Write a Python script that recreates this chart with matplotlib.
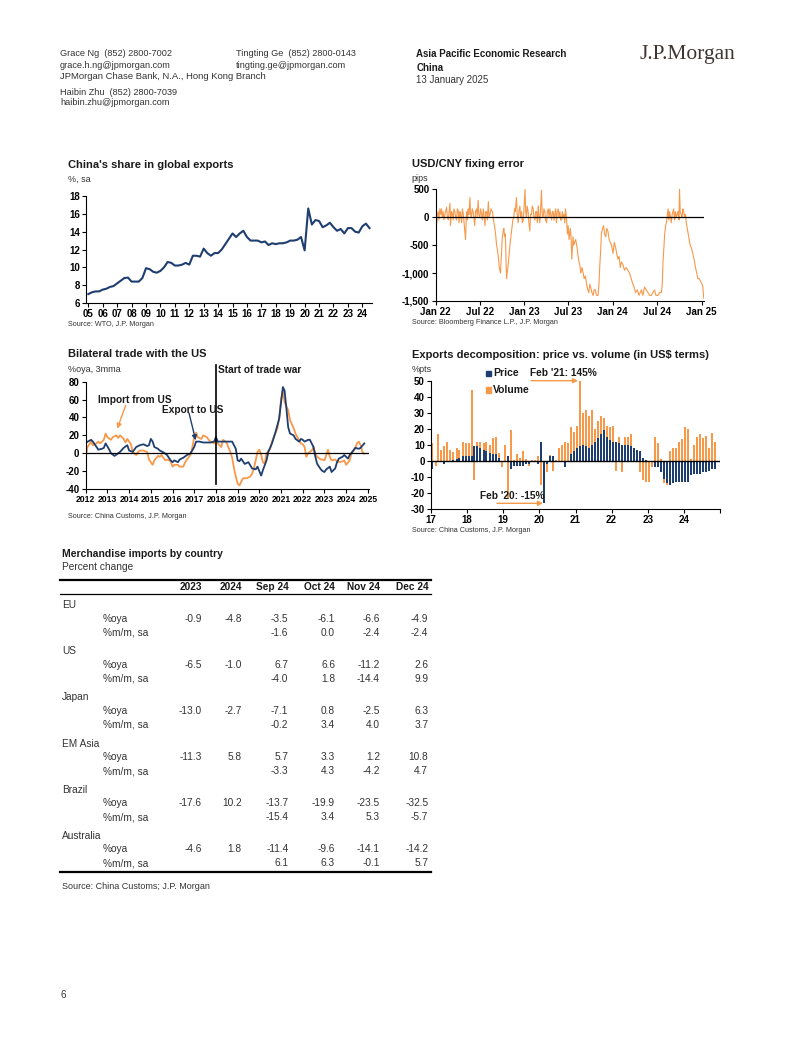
import matplotlib
matplotlib.use('Agg')
import matplotlib.pyplot as plt
from matplotlib.lines import Line2D
from matplotlib.patches import Rectangle
import numpy as np
import pandas as pd

plt.rcParams['font.family'] = ['Liberation Sans', 'DejaVu Sans']
NARROW = ['Liberation Sans Narrow', 'Liberation Sans', 'DejaVu Sans']

# ---------------- data ----------------
# Chart 1: China's share in global exports (%, sa), quarterly from 2005Q1
share_start = '2005Q1'
share = [7.0, 7.2, 7.3, 7.3, 7.5, 7.6, 7.8, 7.9, 8.2, 8.5, 8.8, 8.85,
         8.4, 8.4, 8.4, 8.8, 9.9, 9.8, 9.5, 9.4, 9.6, 10.0, 10.6, 10.5,
         10.2, 10.2, 10.3, 10.5, 10.3, 11.3, 11.3, 11.2, 12.1, 11.6, 11.3, 11.6,
         11.6, 12.0, 12.6, 13.2, 13.8, 13.4, 13.8, 14.1, 13.4, 13.0, 13.0, 13.0,
         12.8, 12.9, 12.5, 12.7, 12.6, 12.7, 12.7, 12.8, 13.0, 13.0, 13.1, 13.4,
         11.9, 16.6, 14.8, 15.3, 15.2, 14.5, 14.7, 15.0, 14.5, 14.1, 14.3, 13.8,
         14.4, 14.4, 14.0, 13.9, 14.6, 14.9, 14.4]
share_ticks = list(range(2005, 2025))

# Chart 2: USD/CNY fixing error (pips)
fx_dates = [
    "2022-01-03", "2022-01-05", "2022-01-07", "2022-01-11", "2022-01-14", "2022-01-18", "2022-01-21", "2022-01-25",
    "2022-01-28", "2022-02-01", "2022-02-04", "2022-02-08", "2022-02-11", "2022-02-15", "2022-02-18", "2022-02-22",
    "2022-02-25", "2022-03-01", "2022-03-03", "2022-03-07", "2022-03-10", "2022-03-14", "2022-03-17", "2022-03-21",
    "2022-03-24", "2022-03-28", "2022-03-31", "2022-04-04", "2022-04-07", "2022-04-11", "2022-04-14", "2022-04-18",
    "2022-04-21", "2022-04-25", "2022-04-28", "2022-05-04", "2022-05-07", "2022-05-10", "2022-05-12", "2022-05-15",
    "2022-05-18", "2022-05-22", "2022-05-25", "2022-05-28", "2022-06-01", "2022-06-04", "2022-06-08", "2022-06-11",
    "2022-06-14", "2022-06-18", "2022-06-21", "2022-06-25", "2022-06-28", "2022-07-02", "2022-07-05", "2022-07-09",
    "2022-07-12", "2022-07-16", "2022-07-19", "2022-07-23", "2022-07-26", "2022-07-30", "2022-08-02", "2022-08-06",
    "2022-08-09", "2022-08-13", "2022-08-17", "2022-08-23", "2022-08-27", "2022-09-02", "2022-09-06", "2022-09-09",
    "2022-09-13", "2022-09-16", "2022-09-20", "2022-09-25", "2022-09-28", "2022-10-02", "2022-10-06", "2022-10-09",
    "2022-10-12", "2022-10-15", "2022-10-20", "2022-10-24", "2022-10-28", "2022-11-03", "2022-11-07", "2022-11-11",
    "2022-11-15", "2022-11-19", "2022-11-22", "2022-11-25", "2022-11-30", "2022-12-03", "2022-12-07", "2022-12-10",
    "2022-12-14", "2022-12-17", "2022-12-21", "2022-12-24", "2022-12-28", "2022-12-31", "2023-01-04", "2023-01-07",
    "2023-01-10", "2023-01-13", "2023-01-17", "2023-01-20", "2023-01-24", "2023-01-27", "2023-01-31", "2023-02-03",
    "2023-02-07", "2023-02-10", "2023-02-14", "2023-02-17", "2023-02-21", "2023-02-24", "2023-02-28", "2023-03-02",
    "2023-03-06", "2023-03-09", "2023-03-13", "2023-03-16", "2023-03-20", "2023-03-23", "2023-03-27", "2023-03-30",
    "2023-04-03", "2023-04-06", "2023-04-10", "2023-04-13", "2023-04-17", "2023-04-20", "2023-04-24", "2023-04-27",
    "2023-04-30", "2023-05-04", "2023-05-07", "2023-05-10", "2023-05-14", "2023-05-17", "2023-05-21", "2023-05-24",
    "2023-05-28", "2023-05-31", "2023-06-04", "2023-06-07", "2023-06-10", "2023-06-14", "2023-06-17", "2023-06-20",
    "2023-06-24", "2023-06-28", "2023-07-01", "2023-07-05", "2023-07-10", "2023-07-13", "2023-07-16", "2023-07-21",
    "2023-07-24", "2023-07-28", "2023-08-01", "2023-08-07", "2023-08-11", "2023-08-15", "2023-08-18", "2023-08-22",
    "2023-08-27", "2023-09-01", "2023-09-05", "2023-09-10", "2023-09-15", "2023-09-20", "2023-09-24", "2023-09-28",
    "2023-10-02", "2023-10-07", "2023-10-12", "2023-10-16", "2023-10-21", "2023-10-26", "2023-11-01", "2023-11-05",
    "2023-11-08", "2023-11-12", "2023-11-15", "2023-11-20", "2023-11-24", "2023-11-28", "2023-12-03", "2023-12-07",
    "2023-12-12", "2023-12-17", "2023-12-22", "2023-12-27", "2024-01-02", "2024-01-07", "2024-01-13", "2024-01-17",
    "2024-01-22", "2024-01-27", "2024-02-01", "2024-02-06", "2024-02-12", "2024-02-18", "2024-02-25", "2024-03-03",
    "2024-03-10", "2024-03-17", "2024-03-24", "2024-03-29", "2024-04-04", "2024-04-11", "2024-04-18", "2024-04-23",
    "2024-04-28", "2024-05-04", "2024-05-11", "2024-05-18", "2024-05-25", "2024-06-01", "2024-06-08", "2024-06-14",
    "2024-06-21", "2024-06-27", "2024-07-05", "2024-07-12", "2024-07-19", "2024-07-23", "2024-07-26", "2024-07-30",
    "2024-08-02", "2024-08-06", "2024-08-09", "2024-08-13", "2024-08-16", "2024-08-19", "2024-08-22", "2024-08-26",
    "2024-08-29", "2024-09-02", "2024-09-05", "2024-09-08", "2024-09-12", "2024-09-15", "2024-09-19", "2024-09-23",
    "2024-09-26", "2024-09-30", "2024-10-02", "2024-10-05", "2024-10-09", "2024-10-12", "2024-10-16", "2024-10-19",
    "2024-10-23", "2024-10-26", "2024-10-30", "2024-11-03", "2024-11-07", "2024-11-11", "2024-11-15", "2024-11-20",
    "2024-11-26", "2024-12-01", "2024-12-07", "2024-12-12", "2024-12-17", "2024-12-22", "2024-12-28", "2025-01-03",
    "2025-01-06", "2025-01-10"]
fx_err = [
    200, -100, 50, 100, -50, 150, 50, 150,
    0, 100, -50, 50, 100, 180, 0, -50,
    100, 250, -150, 100, 80, -50, 150, 100,
    0, -50, 150, 120, -100, 100, 50, -100,
    150, 50, -100, -400, 0, 100, -50, 150,
    50, 350, 50, 0, 150, 100, -50, -150,
    100, 150, 0, 300, 50, 0, 150, 50,
    -50, 150, 50, -150, 100, 100, -50, 280,
    0, 50, 150, 100, -50, -200, -350, -500,
    -600, -700, -900, -1000, -750, -400, -250, -200,
    -350, -300, -1100, -950, -800, -500, -350, -200,
    -50, 0, 150, 100, 350, 50, -100, 100,
    200, 0, 100, -100, -50, 150, 500, 100,
    0, 200, 100, -100, -250, 50, 50, 200,
    150, 0, -50, 100, 100, -100, 200, 50,
    -100, 100, 480, 50, 0, 150, 100, -50,
    -100, 100, 150, 0, 150, 50, -50, 100,
    100, -50, 50, 150, -100, 100, 150, 0,
    100, -50, -50, 100, 0, 50, -100, 150,
    0, -300, -150, -400, -200, -350, -750, -350,
    -500, -450, -400, -550, -700, -800, -850, -1000,
    -900, -1000, -1100, -1050, -1200, -1300, -1350, -1200,
    -1250, -1350, -1400, -1300, -1300, -1400, -1400, -1200,
    -900, -600, -300, -200, -150, -300, -350, -200,
    -250, -400, -450, -500, -650, -450, -550, -650,
    -750, -700, -900, -800, -850, -950, -900, -950,
    -1000, -1100, -1200, -1250, -1350, -1300, -1400, -1350,
    -1300, -1400, -1250, -1300, -1350, -1400, -1400, -1350,
    -1300, -1400, -1400, -1350, -1350, -1200, -800, -500,
    -300, -150, -100, 50, 150, -50, 100, 0,
    -100, 50, 100, 150, -50, 100, 0, 50,
    100, -50, 500, 100, 50, 0, 150, 100,
    0, 50, -100, -200, -300, -400, -500, -550,
    -650, -750, -900, -1000, -1100, -1100, -1150, -1200,
    -1250, -1450]

# Chart 3: Bilateral trade with the US (%oya, 3mma)
exp_months = ["2012-01", "2012-02", "2012-04", "2012-05", "2012-07", "2012-08", "2012-10", "2012-11", "2012-12",
              "2013-02", "2013-03", "2013-05", "2013-06", "2013-08", "2013-10", "2013-12", "2014-01", "2014-03",
              "2014-05", "2014-07", "2014-09", "2014-11", "2014-12", "2015-01", "2015-02", "2015-03", "2015-05",
              "2015-06", "2015-08", "2015-10", "2015-12", "2016-01", "2016-02", "2016-04", "2016-05", "2016-07",
              "2016-09", "2016-11", "2017-01", "2017-02", "2017-04", "2017-06", "2017-08", "2017-10", "2017-12",
              "2018-01", "2018-02", "2018-04", "2018-06", "2018-08", "2018-10", "2018-12", "2019-01", "2019-02",
              "2019-03", "2019-05", "2019-07", "2019-09", "2019-11", "2019-12", "2020-01", "2020-02", "2020-03",
              "2020-05", "2020-06", "2020-08", "2020-10", "2020-12", "2021-01", "2021-02", "2021-03", "2021-04",
              "2021-05", "2021-06", "2021-08", "2021-09", "2021-11", "2021-12", "2022-01", "2022-02", "2022-04",
              "2022-05", "2022-07", "2022-08", "2022-09", "2022-11", "2022-12", "2023-01", "2023-02", "2023-04",
              "2023-05", "2023-07", "2023-08", "2023-09", "2023-11", "2023-12", "2024-01", "2024-02", "2024-03",
              "2024-05", "2024-06", "2024-08", "2024-09", "2024-11"]
exp_us = [11, 13, 15, 13, 7, 4, 5, 6, 11,
          4, 0, -3, -1.5, 1.5, 6, 9, 3, 1.5,
          7, 9, 10, 8, 9, 16, 13, 7, 5,
          3, 1, -2, -8, -10, -8, -10, -7, -5,
          -2, 0, 7, 13, 13, 12, 12, 12, 13,
          18, 13, 13, 13, 13, 13, 5, -8, -9,
          -6, -12, -10, -17, -18, -15, -20, -25, -19,
          -8, 1.5, 11, 24, 39, 57, 74, 70, 50,
          29, 22, 20, 16, 13, 16, 15, 13, 15,
          15, 7, -4, -12, -18, -20, -21, -18, -15,
          -21, -17, -10, -6, -4, -2, -4, -6, -2,
          3, 6, 5, 6, 11]
imp_months = ["2012-01", "2012-02", "2012-04", "2012-05", "2012-07", "2012-08", "2012-09", "2012-11", "2012-12",
              "2013-01", "2013-03", "2013-04", "2013-06", "2013-07", "2013-08", "2013-10", "2013-11", "2013-12",
              "2014-02", "2014-03", "2014-05", "2014-06", "2014-07", "2014-09", "2014-11", "2014-12",
              "2015-02", "2015-03", "2015-05", "2015-06", "2015-07", "2015-09", "2015-10", "2015-12",
              "2016-01", "2016-02", "2016-04", "2016-05", "2016-07", "2016-08", "2016-09", "2016-11", "2016-12",
              "2017-01", "2017-02", "2017-03", "2017-05", "2017-06", "2017-08", "2017-09", "2017-10", "2017-12",
              "2018-01", "2018-02", "2018-04", "2018-05", "2018-07", "2018-08", "2018-09", "2018-10", "2018-11", "2018-12",
              "2019-01", "2019-02", "2019-03", "2019-04", "2019-05", "2019-06", "2019-08", "2019-09", "2019-10", "2019-11", "2019-12",
              "2020-01", "2020-02", "2020-03", "2020-04", "2020-05", "2020-07", "2020-08", "2020-09", "2020-11", "2020-12",
              "2021-01", "2021-02", "2021-03", "2021-05", "2021-06", "2021-08", "2021-09", "2021-10", "2021-12",
              "2022-01", "2022-02", "2022-03", "2022-04", "2022-06", "2022-07", "2022-08", "2022-09", "2022-11", "2022-12",
              "2023-01", "2023-02", "2023-03", "2023-04", "2023-05", "2023-07", "2023-08", "2023-09", "2023-11", "2023-12",
              "2024-01", "2024-03", "2024-04", "2024-06", "2024-07", "2024-08", "2024-09", "2024-10", "2024-11"]
imp_us = [-4, 7, 13, 9, 11, 13, 11, 15, 22,
          18, 15, 18, 20, 17, 20, 16, 12, 16,
          10, 1.5, -2, 1.5, 3, 3, 1.5, -7,
          -13, -8, -3, -4, -2, -8, -7, -9,
          -15, -13, -13, -15, -15, -10, -7, -1.5, 7,
          18, 23, 18, 16, 20, 18, 15, 13, 11,
          15, 11, 7, 15, 12, 6, 1.5, -5, -17, -26,
          -34, -36, -32, -28, -28, -28, -26, -23, -17, -8, 1.5,
          4, -2, -10, -12, 0, 5, 13, 18, 28, 39,
          61, 69, 57, 48, 37, 28, 22, 18, 11,
          10, 7, -4, 0, 3, 7, 0, -4, -7, -7,
          -8, -2, 4, -4, -8, -7, -9, -10, -9, -8,
          -13, -8, 0, 5, 11, 13, 9, 1.5, -0.5]
trade_war_start = "2018-01"

# Chart 4: Exports decomposition, %pts, monthly Jan 2017 - Nov 2024
decomp_start = "2017-01"
price = [-5, -1, 0, -1, -2, -1, -1, 0.5, 1, 2, 3, 3,
         3, 3, 9, 9, 8, 7, 6, 5, 4, 4, 2, 0,
         -1, 3, -5, -3, -3, -3, -3, -2, -2, -1, -1, -2,
         12, -26, -2, 3, 3, 0, -1, -1, -4, 0, 4, 6,
         8, 9, 10, 9, 8, 10, 12, 14, 17, 19, 15, 13,
         12, 12, 11, 10, 10, 10, 9, 8, 7, 6, 2, 0.5,
         -1, -1, -4, -4, -7, -11, -14, -15, -14, -13, -13, -13,
         -13, -13, -9, -8, -8, -8, -7, -7, -6, -5, -5]
volume = [11, -2, 17, 7, 9, 12, 7, 5, 7, 5, 9, 8,
          8, 41, -12, 3, 4, 4, 6, 5, 10, 11, 3, -4,
          10, -23, 19, 0.5, 4, 2, 6, 1, -1, 0.5, 0.5, 3,
          -15, 0, -5, 0.5, -6, 0.5, 8, 10, 12, 11, 17, 12,
          14, 136, 20, 23, 20, 22, 8, 11, 11, 8, 7, 8,
          10, -6, 4, -7, 5, 5, 7.5, -1, -1, -7, -12, -13,
          -12, -3, 15, 11, 1, -2.5, -1, 6, 8, 8, 12, 13.5,
          21, 20, 1, 10, 15, 16.5, 14, 15.5, 8, 17.5, 11.5]

# Table: Merchandise imports by country (percent change)
countries = ['EU', 'US', 'Japan', 'EM Asia', 'Brazil', 'Australia']
col_heads = ['2023', '2024', 'Sep 24', 'Oct 24', 'Nov 24', 'Dec 24']
oya_2023 = [-0.9, -6.5, -13.0, -11.3, -17.6, -4.6]
oya_2024 = [-4.8, -1.0, -2.7, 5.8, 10.2, 1.8]
oya_sep = [-3.5, 6.7, -7.1, 5.7, -13.7, -11.4]
oya_oct = [-6.1, 6.6, 0.8, 3.3, -19.9, -9.6]
oya_nov = [-6.6, -11.2, -2.5, 1.2, -23.5, -14.1]
oya_dec = [-4.9, 2.6, 6.3, 10.8, -32.5, -14.2]
mm_sep = [-1.6, -4.0, -0.2, -3.3, -15.4, 6.1]
mm_oct = [0.0, 1.8, 3.4, 4.3, 3.4, 6.3]
mm_nov = [-2.4, -14.4, 4.0, -4.2, 5.3, -0.1]
mm_dec = [-2.4, 9.9, 3.7, 4.7, -5.7, 5.7]

# ---------------- figure ----------------
W, H = 802, 1037
fig = plt.figure(figsize=(W / 100, H / 100), dpi=100)
fig.patch.set_facecolor('white')

NAVY = '#1F3E70'
ORANGE = '#F7994A'
TXT = '#1a1a1a'


def T(x, y, s, size=7, weight='normal', ha='left', va='center', color=TXT, family=None, **kw):
    kws = dict(fontsize=size, fontweight=weight, ha=ha, va=va, color=color)
    if family is not None:
        kws['family'] = family
    kws.update(kw)
    return fig.text(x / W, 1 - y / H, s, **kws)


def add_ax(l, t, r, b):
    return fig.add_axes([l / W, 1 - b / H, (r - l) / W, (b - t) / H])


def hline(x0, x1, y, lw):
    fig.add_artist(Line2D([x0 / W, x1 / W], [1 - y / H, 1 - y / H], color='black', lw=lw,
                          transform=fig.transFigure))


def style(ax):
    for s in ['top', 'right']:
        ax.spines[s].set_visible(False)
    for s in ['left', 'bottom']:
        ax.spines[s].set_linewidth(0.8)
    ax.tick_params(axis='both', direction='out', length=3, width=0.8, pad=1.5, colors='black')
    ax.patch.set_alpha(0)


TICKFONT = dict(fontsize=7, fontweight='bold')

# Header
T(60, 54, 'Grace Ng  (852) 2800-7002', size=6.6, color='#333333')
T(60, 65.7, 'grace.h.ng@jpmorgan.com', size=6.6, color='#333333')
T(60, 76.7, 'JPMorgan Chase Bank, N.A., Hong Kong Branch', size=6.8, color='#333333', family=NARROW)
T(60, 92.3, 'Haibin Zhu  (852) 2800-7039', size=6.6, color='#333333')
T(60, 102.7, 'haibin.zhu@jpmorgan.com', size=6.6, color='#333333')
T(236, 54, 'Tingting Ge  (852) 2800-0143', size=6.6, color='#333333')
T(236, 65.7, 'tingting.ge@jpmorgan.com', size=6.6, color='#333333')
T(416.5, 54, 'Asia Pacific Economic Research', size=7, weight='bold')
T(416.5, 68.3, 'China', size=7, weight='bold')
T(416.5, 80, '13 January 2025', size=7, color='#333333')
T(640, 55, 'J.P.Morgan', size=15.5, color='#3f3631', family=['Liberation Serif', 'DejaVu Serif'])

# ---------- Chart 1 ----------
T(68, 165, "China's share in global exports", size=8, weight='bold', family=NARROW)
T(68, 179, '%, sa', size=6.5, color='#333333')
T(68, 325, 'Source: WTO, J.P. Morgan', size=5.2, color='#333333')
ax1 = add_ax(86, 196, 371.7, 303)
style(ax1)
q = pd.period_range(share_start, periods=len(share), freq='Q')
x1 = q.year + (q.quarter - 1) / 4
ax1.plot(x1, share, color=NAVY, lw=1.5, solid_joinstyle='round')
ax1.set_xlim(2004.84, 2024.65)
ax1.set_ylim(6, 18)
ax1.set_xticks(share_ticks, labels=[f'{y % 100:02d}' for y in share_ticks], **TICKFONT)
ax1.set_yticks(range(6, 19, 2), labels=[str(v) for v in range(6, 19, 2)], **TICKFONT)

# ---------- Chart 2 ----------
T(411.7, 164, 'USD/CNY fixing error', size=8, weight='bold', family=NARROW)
T(411.7, 178, 'pips', size=6.5, color='#333333')
T(411.7, 323, 'Source: Bloomberg Finance L.P., J.P. Morgan', size=5.2, color='#333333')
ax2 = add_ax(435.7, 189.3, 704, 301)
style(ax2)
ax2.plot(pd.to_datetime(fx_dates), fx_err, color=ORANGE, lw=0.8)
ax2.axhline(0, color='black', lw=0.9)
ax2.set_xlim(pd.Timestamp('2022-01-01'), pd.Timestamp('2025-01-11'))
ax2.set_ylim(-1500, 500)
fx_ticks = pd.to_datetime(['2022-01-01', '2022-07-01', '2023-01-01', '2023-07-01',
                           '2024-01-01', '2024-07-01', '2025-01-01'])
ax2.set_xticks(fx_ticks, labels=[d.strftime('%b %y') for d in fx_ticks], **TICKFONT)
ax2.set_yticks([500, 0, -500, -1000, -1500], labels=['500', '0', '-500', '-1,000', '-1,500'], **TICKFONT)

# ---------- Chart 3 ----------
T(68.3, 354, 'Bilateral trade with the US', size=8, weight='bold', family=NARROW)
T(68.3, 369, '%oya, 3mma', size=6.5, color='#333333')
T(68.3, 516, 'Source: China Customs, J.P. Morgan', size=5.2, color='#333333')
ax3 = add_ax(85.7, 381.7, 369, 489)
style(ax3)
ax3.plot(pd.to_datetime(imp_months), imp_us, color=ORANGE, lw=1.3)
ax3.plot(pd.to_datetime(exp_months), exp_us, color=NAVY, lw=1.3)
ax3.axhline(0, color='black', lw=0.9)
tw = pd.Timestamp(trade_war_start)
ax3.plot([tw, tw], [-34, 99], color='black', lw=1.2, clip_on=False)
ax3.set_xlim(pd.Timestamp('2012-01-01'), pd.Timestamp('2025-01-20'))
ax3.set_ylim(-40, 80)
yt3 = pd.to_datetime([f'{y}-01-01' for y in range(2012, 2026)])
ax3.set_xticks(yt3, labels=[str(d.year) for d in yt3], fontsize=6.2, fontweight='bold')
ax3.set_yticks(range(-40, 81, 20), labels=[str(v) for v in range(-40, 81, 20)], **TICKFONT)
T(218, 370, 'Start of trade war', size=7.3, weight='bold', family=NARROW)
T(97.7, 400, 'Import from US', size=7.3, weight='bold', family=NARROW)
T(161.7, 410, 'Export to US', size=7.3, weight='bold', family=NARROW)
ax3.annotate('', xy=(117.3 / W, 1 - 428.7 / H), xytext=(125.7 / W, 1 - 405.3 / H),
             xycoords='figure fraction', textcoords='figure fraction',
             arrowprops=dict(arrowstyle='-|>', color=ORANGE, lw=1.0, mutation_scale=7,
                             shrinkA=0, shrinkB=0))
ax3.annotate('', xy=(195.7 / W, 1 - 440.3 / H), xytext=(189 / W, 1 - 413 / H),
             xycoords='figure fraction', textcoords='figure fraction',
             arrowprops=dict(arrowstyle='-|>', color=NAVY, lw=1.0, mutation_scale=7,
                             shrinkA=0, shrinkB=0))

# ---------- Chart 4 ----------
T(411.7, 355, 'Exports decomposition: price vs. volume (in US$ terms)', size=8, weight='bold', family=NARROW)
T(411.7, 369, '%pts', size=6.5, color='#333333')
T(411.7, 530, 'Source: China Customs, J.P. Morgan', size=5.2, color='#333333')
ax4 = add_ax(431, 380.7, 720, 509)
style(ax4)
months4 = pd.date_range(decomp_start, periods=len(price), freq='MS') + pd.Timedelta(days=15)
p = np.array(price, dtype=float)
v = np.array(volume, dtype=float)
vb = np.where(np.sign(p) == np.sign(v), p, 0.0)
ax4.bar(months4, p, width=20, color=NAVY, linewidth=0)
ax4.bar(months4, v, bottom=vb, width=20, color=ORANGE, linewidth=0)
ax4.axhline(0, color='black', lw=1.0)
ax4.set_xlim(pd.Timestamp('2017-01-01'), pd.Timestamp('2025-01-01'))
ax4.set_ylim(-30, 50)
yt4 = pd.to_datetime([f'{y}-01-01' for y in range(2017, 2026)])
ax4.set_xticks(yt4, labels=[str(d.year % 100) for d in yt4[:-1]] + [''], **TICKFONT)
ax4.set_yticks(range(-30, 51, 10), labels=[str(v) for v in range(-30, 51, 10)], **TICKFONT)
fig.add_artist(Rectangle((486 / W, 1 - 376 / H), 5 / W, 5.3 / H, color=NAVY, transform=fig.transFigure))
fig.add_artist(Rectangle((486 / W, 1 - 392.7 / H), 5 / W, 5.3 / H, color=ORANGE, transform=fig.transFigure))
T(493, 373, 'Price', size=7.5, weight='bold', family=NARROW)
T(493, 390, 'Volume', size=7.5, weight='bold', family=NARROW)
T(530, 373, "Feb '21: 145%", size=7.3, weight='bold', family=NARROW)
T(480, 496, "Feb '20: -15%", size=7.3, weight='bold', family=NARROW)
ax4.annotate('', xy=(578 / W, 1 - 380.7 / H), xytext=(531 / W, 1 - 380.7 / H),
             xycoords='figure fraction', textcoords='figure fraction',
             arrowprops=dict(arrowstyle='-|>', color=ORANGE, lw=1.0, mutation_scale=7,
                             shrinkA=0, shrinkB=0))
ax4.annotate('', xy=(543 / W, 1 - 503.3 / H), xytext=(497 / W, 1 - 503.3 / H),
             xycoords='figure fraction', textcoords='figure fraction',
             arrowprops=dict(arrowstyle='-|>', color=ORANGE, lw=1.0, mutation_scale=7,
                             shrinkA=0, shrinkB=0))

# ---------- Table ----------
T(62, 554, 'Merchandise imports by country', size=7.5, weight='bold', family=NARROW)
T(62, 567, 'Percent change', size=7.3, color='#333333', family=NARROW)
hline(60, 431, 580.3, 1.6)
hline(60, 431, 594.3, 0.9)
col_right = [201.7, 241.7, 288.3, 335, 380, 428.3]
for xr, h in zip(col_right, col_heads):
    T(xr, 587, h, size=7.3, weight='bold', ha='right', family=NARROW)
oya_cols = [oya_2023, oya_2024, oya_sep, oya_oct, oya_nov, oya_dec]
mm_cols = [None, None, mm_sep, mm_oct, mm_nov, mm_dec]
for i, c in enumerate(countries):
    yh = 605 + 46.2 * i
    T(62, yh, c, size=7.3, color='#333333', family=NARROW)
    T(103, yh + 13.5, '%oya', size=7.3, color='#333333', family=NARROW)
    T(103, yh + 27.5, '%m/m, sa', size=7.3, color='#333333', family=NARROW)
    for xr, col in zip(col_right, oya_cols):
        T(xr, yh + 13.5, f'{col[i]:.1f}', size=7.3, ha='right', color='#333333', family=NARROW)
    for xr, col in zip(col_right, mm_cols):
        if col is not None:
            T(xr, yh + 27.5, f'{col[i]:.1f}', size=7.3, ha='right', color='#333333', family=NARROW)
hline(60, 431, 871.7, 1.6)
T(62, 886.7, 'Source: China Customs; J.P. Morgan', size=6.5, color='#333333', family=NARROW)

# page number
T(61, 995, '6', size=7, color='#333333')

fig.savefig('out.png', dpi=100, facecolor='white')
